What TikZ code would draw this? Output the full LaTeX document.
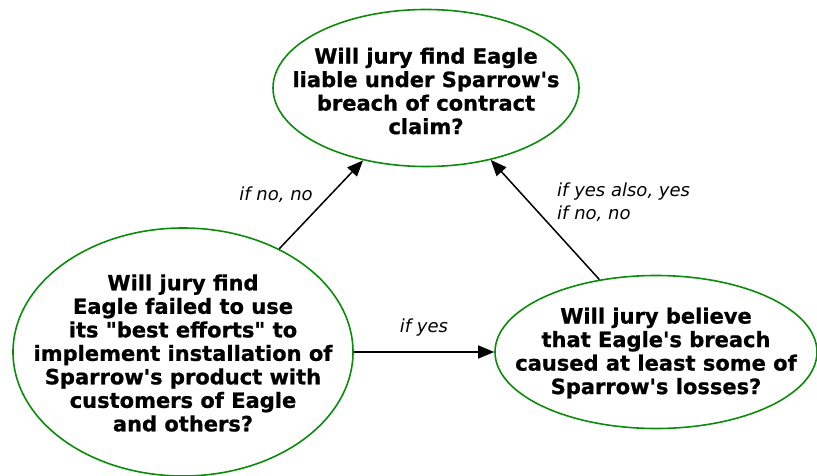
\documentclass[tikz,border=0pt]{standalone}
\usepackage{fontspec}
\setmainfont{DejaVu Sans}[BoldFeatures={FakeBold=0.9}]
\usetikzlibrary{shapes.geometric,arrows.meta}
\definecolor{qgreen}{RGB}{10,140,10}
\tikzset{
  question/.style={ellipse, draw=qgreen, line width=1.6pt, inner sep=0pt},
  qtext/.style={align=center, inner sep=0pt, font=\fontsize{21}{23.5}\selectfont\bfseries},
  link/.style={draw=black, line width=1.5pt, -{Triangle[length=16pt,width=13pt]}},
  lbl/.style={font=\fontsize{18}{23}\selectfont\itshape, inner sep=0pt}
}
\begin{document}
\begin{tikzpicture}[x=1pt,y=-1pt]
\useasboundingbox (0,0) rectangle (817,476);
\node[question, minimum width=306pt, minimum height=157pt] (top) at (426,88) {};
\node[qtext] (toptext) at (426,91)
  {Will jury find Eagle\\liable under Sparrow\textquotesingle s\\breach of contract\\claim?};
\node[question, minimum width=340pt, minimum height=248pt] (left) at (183,352) {};
\node[qtext] (lefttext) at (183,353)
  {Will jury find\\Eagle failed to use\\its \textquotedbl best efforts\textquotedbl\ to\\implement installation of\\Sparrow\textquotesingle s product with\\customers of Eagle\\and others?};
\node[question, minimum width=322pt, minimum height=153pt] (right) at (656,352) {};
\node[qtext] (righttext) at (656,353)
  {Will jury believe\\that Eagle\textquotesingle s breach\\caused at least some of\\Sparrow\textquotesingle s losses?};
\draw[link] (left.47) -- (top.229);
\draw[link] (right.128) -- (top.312);
\draw[link] (left.east) -- (right.west);
\node[lbl] (l1) at (276,195) {if no, no};
\node[lbl, anchor=west, align=left] (l2) at (557,202) {if yes also, yes\\if no, no};
\node[lbl] (l3) at (424,328) {if yes};
\end{tikzpicture}
\end{document}
